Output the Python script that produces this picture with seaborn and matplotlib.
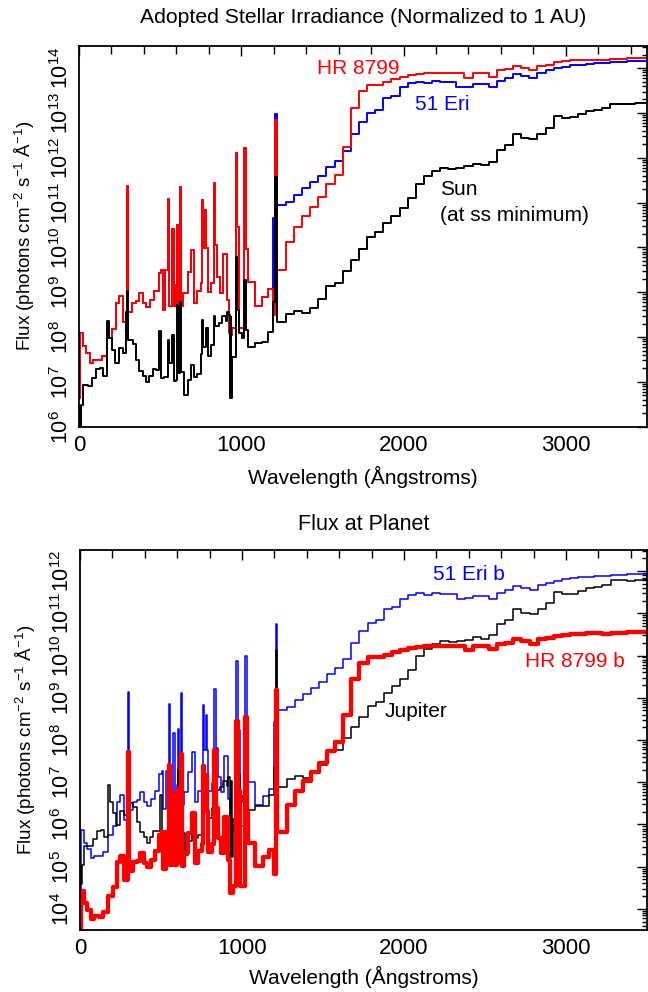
import numpy as np
import pandas as pd
import matplotlib
matplotlib.use("Agg")
import matplotlib.pyplot as plt
from matplotlib import ticker
import seaborn as sns

# ---------------- data (log10 of flux, photons cm^-2 s^-1 A^-1 at 1 AU) ----------------
euv_edges = [0, 4, 10, 27, 45, 53, 68, 80, 88, 105, 115, 129, 142, 146, 170, 187, 203, 224, 228, 248,
             273, 289, 296, 304, 326, 330, 351, 371, 392, 412, 433, 437, 453, 464, 474, 490, 494, 505,
             515, 525, 531, 548, 556, 576, 587, 597, 605, 611, 622, 630, 642, 648, 669, 689, 710, 730,
             751, 761, 767, 775, 785, 792, 812, 829, 837, 853, 864, 870, 884, 890, 905, 915, 925, 929,
             934, 938, 944, 966, 976, 988, 1007, 1018, 1028, 1040, 1083, 1130, 1167, 1196, 1208]

hr8799_euv_log = [6.65, 8.10, 8.10, 7.80, 7.65, 7.65, 7.43, 7.43, 7.49, 7.49, 7.48, 7.48, 7.58, 7.58,
                  7.98, 7.98, 8.18, 8.18, 8.77, 8.92, 8.34, 8.34, 11.37, 8.56, 8.77, 8.77, 8.80, 8.99,
                  8.75, 8.66, 8.66, 8.82, 8.82, 9.03, 9.03, 9.42, 9.42, 9.49, 8.60, 8.60, 9.49, 11.07,
                  8.70, 10.40, 8.70, 9.16, 10.50, 8.75, 11.34, 8.69, 8.99, 8.99, 9.46, 9.94, 8.75, 9.03,
                  9.21, 11.05, 9.98, 10.83, 9.98, 9.01, 9.21, 11.44, 10.05, 9.34, 9.34, 8.99, 8.99, 9.85,
                  9.85, 8.82, 8.10, 8.05, 8.15, 8.05, 8.20, 12.11, 10.46, 8.20, 8.20, 12.21, 9.96, 9.23,
                  8.69, 8.90, 9.07, 8.50, 12.84]

eri51_euv_log = [6.65, 8.10, 8.10, 7.80, 7.65, 7.65, 7.43, 7.43, 7.49, 7.49, 7.48, 7.48, 7.58, 7.58,
                 7.98, 7.98, 8.18, 8.18, 8.77, 8.92, 8.34, 8.34, 11.37, 8.56, 8.77, 8.77, 8.80, 8.99,
                 8.75, 8.66, 8.66, 8.82, 8.82, 9.03, 9.03, 9.42, 9.42, 9.49, 8.60, 8.60, 9.49, 11.07,
                 8.70, 10.40, 8.70, 9.16, 10.50, 8.75, 11.34, 8.69, 8.99, 8.99, 9.46, 9.94, 8.75, 9.03,
                 9.21, 11.05, 9.98, 10.83, 9.98, 9.01, 9.21, 11.44, 10.05, 9.34, 9.34, 8.99, 8.99, 9.85,
                 9.85, 8.82, 8.10, 8.05, 8.15, 8.05, 8.20, 12.11, 10.46, 8.20, 8.20, 12.21, 9.96, 9.23,
                 8.69, 8.90, 9.07, 10.65, 12.97]

sun_euv_log = [6.45, 6.02, 6.48, 6.93, 6.93, 6.91, 6.91, 7.08, 7.08, 7.28, 7.28, 7.30, 7.30, 7.13,
               8.36, 7.97, 7.71, 7.41, 7.41, 7.75, 7.65, 8.56, 9.03, 7.93, 7.93, 7.84, 7.49, 7.25,
               7.14, 7.00, 7.14, 7.14, 7.28, 7.28, 7.27, 7.27, 8.13, 7.08, 7.08, 7.10, 7.10, 7.93,
               7.43, 8.05, 7.02, 7.04, 8.71, 7.20, 8.78, 7.23, 7.23, 6.71, 7.04, 7.38, 7.11, 7.18,
               7.62, 8.38, 7.78, 7.78, 8.21, 7.58, 7.82, 8.47, 8.25, 8.25, 8.31, 8.31, 8.46, 8.46,
               8.35, 8.55, 8.50, 6.65, 8.45, 6.65, 7.55, 9.79, 8.60, 8.10, 7.97, 9.27, 8.16, 7.78,
               7.86, 7.88, 8.12, 8.79, 11.56]

long_edges = [1218, 1275, 1325, 1375, 1425, 1475, 1525, 1575, 1625, 1675, 1725, 1775, 1825, 1875,
              1925, 1975, 2025, 2075, 2125, 2175, 2225, 2275, 2325, 2375, 2425, 2475, 2525, 2575,
              2625, 2675, 2725, 2775, 2825, 2875, 2925, 2975, 3025, 3075, 3125, 3175, 3225, 3275,
              3325, 3375, 3425, 3475]

eri51_long_log = [10.94, 11.02, 11.17, 11.32, 11.45, 11.59, 11.79, 11.93, 12.15, 12.53, 12.80, 12.99,
                  13.07, 13.33, 13.38, 13.57, 13.66, 13.70, 13.67, 13.71, 13.69, 13.68, 13.57, 13.58,
                  13.65, 13.65, 13.57, 13.71, 13.78, 13.87, 13.83, 13.78, 13.89, 13.95, 14.00, 14.03,
                  14.06, 14.08, 14.10, 14.11, 14.12, 14.13, 14.14, 14.15, 14.16, 14.16]

hr8799_long_log = [9.49, 10.12, 10.46, 10.70, 10.90, 11.13, 11.41, 11.61, 12.25, 13.12, 13.48, 13.63,
                   13.63, 13.69, 13.76, 13.80, 13.84, 13.87, 13.88, 13.90, 13.89, 13.90, 13.90, 13.79,
                   13.90, 13.88, 13.81, 13.95, 13.97, 14.05, 14.01, 13.95, 14.05, 14.08, 14.14, 14.15,
                   14.17, 14.18, 14.19, 14.19, 14.18, 14.21, 14.21, 14.22, 14.23, 14.23]

sun_long_log = [8.33, 8.51, 8.58, 8.54, 8.64, 8.84, 9.15, 9.20, 9.48, 9.73, 9.97, 10.24, 10.34, 10.55,
                10.70, 10.87, 11.10, 11.42, 11.59, 11.70, 11.78, 11.76, 11.77, 11.81, 11.87, 11.83,
                11.91, 12.18, 12.28, 12.53, 12.45, 12.41, 12.53, 12.67, 12.93, 12.89, 12.90, 12.97,
                13.04, 13.06, 13.10, 13.21, 13.21, 13.19, 13.22, 13.22]

end_wavelength = 3500

# orbital distances (AU) used to scale the 1 AU stellar flux to each planet
orbit_au_jupiter = 5.2
orbit_au_51erib = 13.0
orbit_au_hr8799b = 68.0

top_decades = [6, 7, 8, 9, 10, 11, 12, 13, 14]
bottom_decades = [4, 5, 6, 7, 8, 9, 10, 11, 12]


def spectrum(euv_log, long_log, scale_au=1.0):
    x = list(euv_edges) + list(long_edges) + [end_wavelength]
    logs = list(euv_log) + list(long_log)
    logs = logs + [logs[-1]]
    flux = [10.0 ** v / scale_au ** 2 for v in logs]
    return pd.DataFrame({"wavelength": x, "flux": flux})


hr_df = spectrum(hr8799_euv_log, hr8799_long_log)
eri_df = spectrum(eri51_euv_log, eri51_long_log)
sun_df = spectrum(sun_euv_log, sun_long_log)
hrb_df = spectrum(hr8799_euv_log, hr8799_long_log, orbit_au_hr8799b)
erib_df = spectrum(eri51_euv_log, eri51_long_log, orbit_au_51erib)
jup_df = spectrum(sun_euv_log, sun_long_log, orbit_au_jupiter)

# ---------------- style ----------------
sns.set_style("white")
plt.rcParams["font.family"] = ["Liberation Sans", "DejaVu Sans"]
plt.rcParams["mathtext.fontset"] = "custom"
plt.rcParams["mathtext.rm"] = "Liberation Sans"
plt.rcParams["mathtext.it"] = "Liberation Sans:italic"
plt.rcParams["mathtext.bf"] = "Liberation Sans:bold"
plt.rcParams["mathtext.sf"] = "Liberation Sans"
plt.rcParams["text.color"] = "black"
plt.rcParams["axes.labelcolor"] = "black"
plt.rcParams["xtick.color"] = "black"
plt.rcParams["ytick.color"] = "black"

W, H = 648, 992
fig = plt.figure(figsize=(W / 100, H / 100), dpi=100)
ax1 = fig.add_axes([79 / W, 1 - 426.7 / H, (647 - 79) / W, (426.7 - 45.7) / H])
ax2 = fig.add_axes([80 / W, 1 - 930 / H, (647 - 80) / W, (930 - 550) / H])

RED, BLUE, BLACK = "#ff0000", "#0000ff", "#000000"
common = dict(x="wavelength", y="flux", drawstyle="steps-post", estimator=None, sort=False, legend=False)

sns.lineplot(data=eri_df, ax=ax1, color=BLUE, lw=1.4, **common)
sns.lineplot(data=hr_df, ax=ax1, color=RED, lw=1.4, **common)
sns.lineplot(data=sun_df, ax=ax1, color=BLACK, lw=1.4, **common)

sns.lineplot(data=erib_df, ax=ax2, color=BLUE, lw=1.1, **common)
sns.lineplot(data=jup_df, ax=ax2, color=BLACK, lw=1.1, **common)
sns.lineplot(data=hrb_df, ax=ax2, color=RED, lw=3.1, **common)

ylims = {ax1: (1e6, 10 ** 14.5), ax2: (10 ** 3.5, 10 ** 12.5)}
decades = {ax1: top_decades, ax2: bottom_decades}
ylabel = r"Flux (photons cm$^{-2}$ s$^{-1}$ Å$^{-1}$)"
for ax in (ax1, ax2):
    ax.set_yscale("log")
    ax.set_xlim(0, 3500)
    ax.set_ylim(*ylims[ax])
    ax.xaxis.set_major_locator(ticker.MultipleLocator(1000))
    ax.xaxis.set_minor_locator(ticker.MultipleLocator(200))
    ax.yaxis.set_major_locator(ticker.FixedLocator([10.0 ** k for k in decades[ax]]))
    ax.yaxis.set_minor_locator(ticker.LogLocator(base=10, subs=np.arange(2, 10), numticks=30))
    ax.yaxis.set_major_formatter(ticker.LogFormatterMathtext())
    ax.yaxis.set_minor_formatter(ticker.NullFormatter())
    ax.tick_params(which="both", direction="in", top=True, right=True, width=1.0)
    ax.tick_params(axis="x", which="major", length=7, labelsize=16, pad=6)
    ax.tick_params(axis="x", which="minor", length=5.5)
    ax.tick_params(axis="y", which="major", length=7.5, labelsize=15.5, pad=4, labelrotation=90)
    ax.tick_params(axis="y", which="minor", length=3.5)
    for lab in ax.get_yticklabels():
        lab.set_va("center")
    for sp in ax.spines.values():
        sp.set_linewidth(1.3)
        sp.set_color("black")
    ax.set_xlabel("Wavelength (Ångstroms)", fontsize=15, va="center")
    ax.set_ylabel(ylabel, fontsize=13.5, va="center")
    ax.yaxis.set_label_coords(-0.095, 0.5)

ax1.xaxis.set_label_coords(0.5, -0.132)
ax2.xaxis.set_label_coords(0.5, -0.124)

ax1.text(0.5, 1.073, "Adopted Stellar Irradiance (Normalized to 1 AU)", transform=ax1.transAxes,
         ha="center", va="center", fontsize=15.2)
ax2.text(0.5, 1.068, "Flux at Planet", transform=ax2.transAxes,
         ha="center", va="center", fontsize=15.5)

lab = dict(fontsize=15, ha="left", va="center")
ax1.text(1465, 10 ** 14.0, "HR 8799", color=RED, **lab)
ax1.text(2068, 10 ** 13.19, "51 Eri", color=BLUE, **lab)
ax1.text(2222, 10 ** 11.30, "Sun", color=BLACK, **lab)
ax1.text(2222, 10 ** 10.72, "(at ss minimum)", color=BLACK, **lab)

ax2.text(2182, 10 ** 11.92, "51 Eri b", color=BLUE, **lab)
ax2.text(2747, 10 ** 9.86, "HR 8799 b", color=RED, **lab)
ax2.text(1881, 10 ** 8.68, "Jupiter", color=BLACK, **lab)

fig.savefig("out.png", dpi=100)
